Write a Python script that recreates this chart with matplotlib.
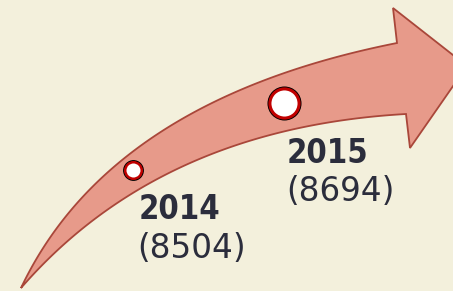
import numpy as np
import matplotlib.pyplot as plt
from matplotlib.patches import Polygon

years = ['2014', '2015']
values = [8504, 8694]

# layout (pixel space of a 453x291 canvas)
W, H = 453, 291
tail = np.array([21, 288])
upper_ctrl, upper_end = np.array([110, 100]), np.array([397, 43])
lower_ctrl, lower_end = np.array([160, 128]), np.array([406, 114])
head = [(393, 8), (467, 66), (410, 148)]
marker_t = [0.39, 0.763]
marker_size = [15.0, 24.5]
marker_lift = [3, 0]
year_pos = [(139, 219), (287, 163)]
value_pos = [(137, 258), (286, 201)]

bg = '#F3F0DC'
fill = '#E79A8A'
edge = '#A9473A'
txt = '#2B2D3C'


def bezier(p0, c, p2, t):
    t = np.asarray(t)[:, None]
    return (1 - t) ** 2 * p0 + 2 * t * (1 - t) * c + t ** 2 * p2


t = np.linspace(0, 1, 120)
upper = bezier(tail, upper_ctrl, upper_end, t)
lower = bezier(tail, lower_ctrl, lower_end, t)

outline = np.vstack([upper, head, lower[::-1]])

fig = plt.figure(figsize=(W / 100, H / 100), dpi=100)
fig.patch.set_facecolor(bg)
ax = fig.add_axes([0, 0, 1, 1])
ax.set_facecolor(bg)
ax.set_xlim(0, W)
ax.set_ylim(H, 0)
ax.axis('off')

ax.add_patch(Polygon(outline, closed=True, facecolor=fill, edgecolor=edge,
                     linewidth=1.3, joinstyle='miter'))

mid = (bezier(tail, upper_ctrl, upper_end, marker_t) +
       bezier(tail, lower_ctrl, lower_end, marker_t)) / 2
for i, (x, y) in enumerate(mid):
    y -= marker_lift[i]
    d = marker_size[i]
    mew = 1.8 if i == 0 else 2.2
    ax.plot(x, y, 'o', ms=d, mfc='black', mec='black', mew=0)
    ax.plot(x, y, 'o', ms=d - 1.3 - mew, mfc='white', mec='#C00000', mew=mew)

for i in range(len(years)):
    ax.text(*year_pos[i], years[i], fontsize=23.5, fontweight='bold',
            fontstretch='condensed', family='DejaVu Sans', color=txt,
            va='baseline', ha='left')
    ax.text(*value_pos[i], f'({values[i]})', fontsize=23.5,
            family='DejaVu Sans', color=txt, va='baseline', ha='left')

fig.savefig('out.png', dpi=100, facecolor=bg)
